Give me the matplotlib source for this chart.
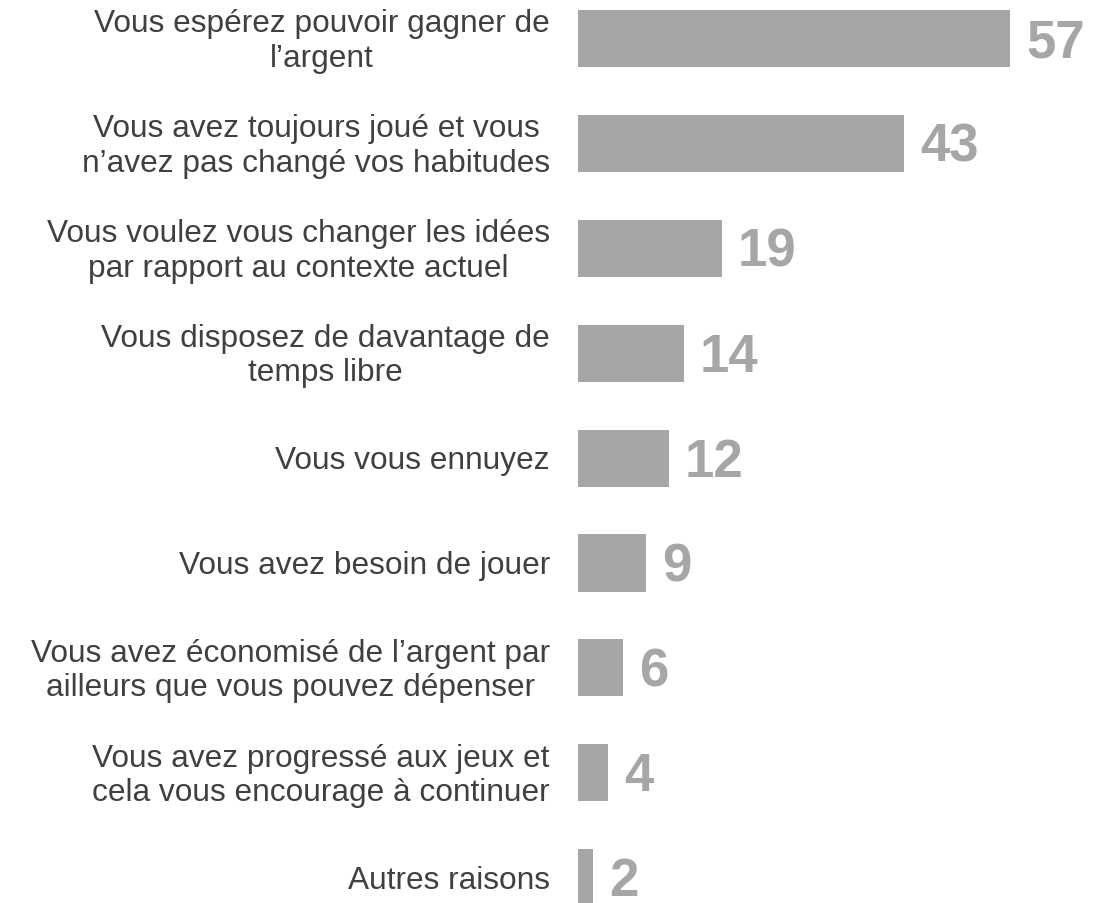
import matplotlib.pyplot as plt

labels = [
    "Vous espérez pouvoir gagner de\nl’argent",
    "Vous avez toujours joué et vous\nn’avez pas changé vos habitudes",
    "Vous voulez vous changer les idées\npar rapport au contexte actuel",
    "Vous disposez de davantage de\ntemps libre",
    "Vous vous ennuyez",
    "Vous avez besoin de jouer",
    "Vous avez économisé de l’argent par\nailleurs que vous pouvez dépenser",
    "Vous avez progressé aux jeux et\ncela vous encourage à continuer",
    "Autres raisons",
]
values = [57, 43, 19, 14, 12, 9, 6, 4, 2]

bar_color = "#A6A6A6"
text_color = "#404040"

plt.rcParams["font.family"] = ["Liberation Sans", "DejaVu Sans"]

fig = plt.figure(figsize=(11.12, 9.04), dpi=100)
ax = fig.add_axes([578 / 1112, 0, 1 - 578 / 1112, 1])

pos = list(range(len(values)))
ax.barh(pos, values, height=0.545, color=bar_color)

# pixel scale: about 7.58 px per unit, 104.9 px between bars
px = 7.58
py = 104.9
ax.set_xlim(0, 534 / px)
ax.set_ylim((904 - 39.5) / py, -39.5 / py)

for p, v, lab in zip(pos, values, labels):
    ax.text(v + 16 / px, p - 2 / py, str(v), ha="left", va="center_baseline",
            fontsize=38, fontweight="bold", color=bar_color)
    ax.text(-28 / px, p + 2 / py, lab, ha="right", va="center", multialignment="center",
            fontsize=22.8, color=text_color, linespacing=1.2, clip_on=False)

ax.axis("off")
fig.savefig("out.png", dpi=100)
